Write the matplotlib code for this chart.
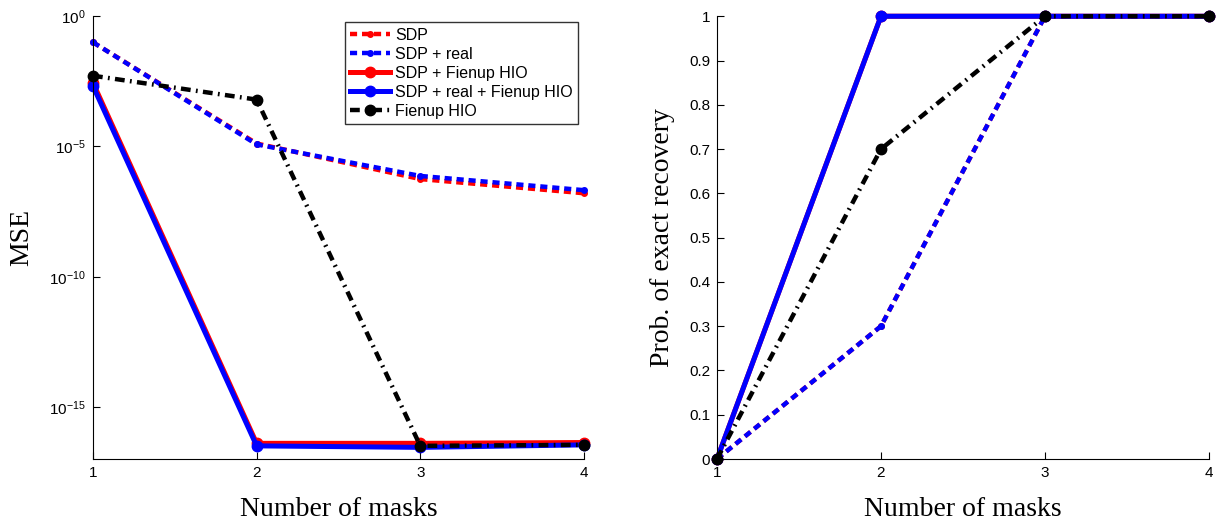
import numpy as np
import matplotlib
matplotlib.use('Agg')
import matplotlib.pyplot as plt
from matplotlib.ticker import FixedLocator, FixedFormatter, NullLocator

plt.rcParams['font.family'] = ['Liberation Sans', 'DejaVu Sans']
plt.rcParams['mathtext.fontset'] = 'custom'
plt.rcParams['mathtext.rm'] = 'Liberation Sans'
plt.rcParams['mathtext.it'] = 'Liberation Sans'

# Dados
masks = [1, 2, 3, 4]
series_names = ['SDP', 'SDP + real', 'SDP + Fienup HIO', 'SDP + real + Fienup HIO', 'Fienup HIO']

# MSE (escala log)
mse_sdp = [1.0e-1, 1.3e-5, 5.6e-7, 1.6e-7]
mse_sdp_real = [1.0e-1, 1.2e-5, 7.4e-7, 2.1e-7]
mse_sdp_hio = [2.8e-3, 4.0e-17, 4.0e-17, 4.3e-17]
mse_sdp_real_hio = [2.1e-3, 3.2e-17, 2.8e-17, 3.5e-17]
mse_hio = [5.2e-3, 6.3e-4, 3.2e-17, 3.5e-17]

# Probabilidade de recuperação exata
prob_sdp = [0, 0.3, 1, 1]
prob_sdp_real = [0, 0.3, 1, 1]
prob_sdp_hio = [0, 1, 1, 1]
prob_sdp_real_hio = [0, 1, 1, 1]
prob_hio = [0, 0.7, 1, 1]

dotted = (0, (1.6, 1.1))
dashdot = (0, (2.2, 1.2, 0.4, 1.2))
styles = [
    dict(color='red', ls=dotted, lw=3.2, marker='o', ms=4),
    dict(color='blue', ls=dotted, lw=3.2, marker='o', ms=4),
    dict(color='red', ls='-', lw=3.6, marker='o', ms=7.5),
    dict(color='blue', ls='-', lw=3.6, marker='o', ms=7.5),
    dict(color='black', ls=dashdot, lw=3.2, marker='o', ms=7.5),
]

fig = plt.figure(figsize=(12.25, 5.24), dpi=100)
ax1 = fig.add_axes([0.0759, 0.124, 0.4008, 0.845])
ax2 = fig.add_axes([0.5853, 0.124, 0.4016, 0.845])

mse_all = [mse_sdp, mse_sdp_real, mse_sdp_hio, mse_sdp_real_hio, mse_hio]
prob_all = [prob_sdp, prob_sdp_real, prob_sdp_hio, prob_sdp_real_hio, prob_hio]

for vals, name, st in zip(mse_all, series_names, styles):
    ax1.plot(masks, vals, label=name, clip_on=False, **st)
for vals, name, st in zip(prob_all, series_names, styles):
    ax2.plot(masks, vals, label=name, clip_on=False, **st)

ax1.set_yscale('log')
ax1.set_ylim(1e-17, 1)
ax1.yaxis.set_major_locator(FixedLocator([1e-15, 1e-10, 1e-5, 1e0]))
ax1.yaxis.set_major_formatter(FixedFormatter([r'$\mathregular{10^{-15}}$', r'$\mathregular{10^{-10}}$',
                                              r'$\mathregular{10^{-5}}$', r'$\mathregular{10^{0}}$']))
ax1.yaxis.set_minor_locator(NullLocator())
ax1.set_ylabel('MSE', family='Liberation Serif', fontsize=20, labelpad=11)

ax2.set_ylim(0, 1)
ax2.set_yticks(np.arange(0, 1.01, 0.1))
ax2.set_yticklabels(['%g' % round(v, 1) for v in np.arange(0, 1.01, 0.1)])
ax2.set_ylabel('Prob. of exact recovery', family='Liberation Serif', fontsize=20, labelpad=10)

for ax in (ax1, ax2):
    ax.set_xlim(1, 4)
    ax.set_xticks(masks)
    ax.set_xlabel('Number of masks', family='Liberation Serif', fontsize=20, labelpad=12)
    ax.spines['top'].set_visible(False)
    ax.spines['right'].set_visible(False)
    ax.tick_params(direction='in', length=5, labelsize=11, pad=5)

leg = ax1.legend(loc='upper right', bbox_to_anchor=(0.988, 0.987), fontsize=11.5,
                 frameon=True, fancybox=False, edgecolor='black', handlelength=2.5,
                 handletextpad=0.3, labelspacing=0.25, borderpad=0.35, borderaxespad=0)
leg.get_frame().set_linewidth(1.0)

plt.savefig('out.png', dpi=100)
